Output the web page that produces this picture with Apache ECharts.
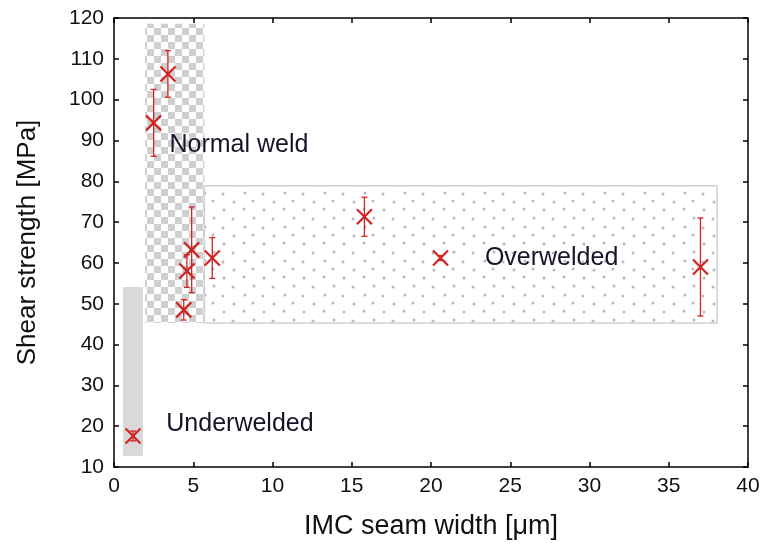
<!DOCTYPE html>
<html>
<head>
<meta charset="utf-8">
<script src="https://cdn.jsdelivr.net/npm/echarts@6/dist/echarts.min.js"></script>
<style>html,body{margin:0;padding:0;background:#fff}#c{width:765px;height:550px}</style>
</head>
<body>
<div id="c"></div>
<script>
// ---- data ----
var xTicks = [0, 5, 10, 15, 20, 25, 30, 35, 40];
var yTicks = [10, 20, 30, 40, 50, 60, 70, 80, 90, 100, 110, 120];
var seamWidth = [1.2, 2.5, 3.4, 4.4, 4.6, 4.9, 6.2, 15.8, 20.6, 37.0];
var shearStrength = [17.6, 94.3, 106.3, 48.5, 58.0, 63.2, 61.2, 71.3, 61.2, 59.0];
var strengthErr = [1.2, 8.2, 5.7, 2.5, 4.0, 10.5, 5.0, 4.8, 0.6, 12.0];

var regionNames = ['Underwelded', 'Normal weld', 'Overwelded'];
var regionX0 = [0.57, 1.96, 5.7];
var regionX1 = [1.83, 5.7, 38.05];
var regionY0 = [12.7, 45.3, 45.3];
var regionY1 = [54.1, 118.6, 78.9];
var labelX = [3.3, 3.5, 23.4];
var labelY = [20.5, 88.9, 61.2];

// ---- patterns ----
function checkerCanvas() {
  var c = document.createElement('canvas'); c.width = 14; c.height = 14;
  var g = c.getContext('2d');
  g.fillStyle = '#ffffff'; g.fillRect(0, 0, 14, 14);
  g.fillStyle = '#cfcfcf'; g.fillRect(0, 0, 7, 7); g.fillRect(7, 7, 7, 7);
  return c;
}
function dotCanvas() {
  var c = document.createElement('canvas'); c.width = 40; c.height = 34;
  var g = c.getContext('2d');
  g.fillStyle = '#ffffff'; g.fillRect(0, 0, 40, 34);
  g.fillStyle = '#b9b9b9';
  var pts = [[4, 5], [24, 6], [14, 14], [33, 15], [5, 23], [23, 24], [13, 31], [34, 32]];
  pts.forEach(function (p) { g.beginPath(); g.arc(p[0], p[1], 1.5, 0, Math.PI * 2); g.fill(); });
  return c;
}
var checkerPat = { image: checkerCanvas(), repeat: 'repeat' };
var dotPat = { image: dotCanvas(), repeat: 'repeat' };
var regionFills = ['#d9d9d9', checkerPat, dotPat];
var regionStroke = [null, null, '#cfcfcf'];

var regionData = regionNames.map(function (n, i) { return [regionX0[i], regionX1[i], regionY0[i], regionY1[i], i]; });
var pointData = seamWidth.map(function (x, i) { return [x, shearStrength[i], strengthErr[i]]; });
var labelData = regionNames.map(function (n, i) { return [labelX[i], labelY[i], i]; });

var RED = '#d02424';
var FONT = '"Liberation Sans", Arial, sans-serif';

var chart = echarts.init(document.getElementById('c'));
var axisCommon = {
  axisLine: { show: true, onZero: false, lineStyle: { color: '#000', width: 1.5 } },
  axisTick: { show: true, inside: true, length: 5, lineStyle: { color: '#000', width: 1.5 } },
  splitLine: { show: false }
};
chart.setOption({
  animation: false,
  backgroundColor: '#fff',
  grid: { left: 114, right: 17, top: 18, bottom: 83 },
  xAxis: [
    Object.assign({
      type: 'value', min: 0, max: 40, interval: 5, position: 'bottom',
      name: 'IMC seam width [\u03bcm]', nameLocation: 'middle', nameGap: 46,
      nameTextStyle: { fontSize: 27, color: '#111', fontFamily: FONT },
      axisLabel: { fontSize: 21, color: '#111', margin: 9, fontFamily: FONT }
    }, axisCommon),
    Object.assign({
      type: 'value', min: 0, max: 40, interval: 5, position: 'top',
      axisLabel: { show: false }
    }, axisCommon)
  ],
  yAxis: [
    Object.assign({
      type: 'value', min: 10, max: 120, interval: 10, position: 'left',
      name: 'Shear strength [MPa]', nameLocation: 'middle', nameGap: 73,
      nameTextStyle: { fontSize: 26, color: '#111', fontFamily: FONT },
      axisLabel: { fontSize: 21, color: '#111', margin: 10, fontFamily: FONT }
    }, axisCommon),
    Object.assign({
      type: 'value', min: 10, max: 120, interval: 10, position: 'right',
      axisLabel: { show: false }
    }, axisCommon)
  ],
  series: [
    {
      type: 'custom', z: 1, data: regionData, silent: true,
      renderItem: function (params, api) {
        var i = api.value(4);
        var p0 = api.coord([api.value(0), api.value(3)]);
        var p1 = api.coord([api.value(1), api.value(2)]);
        var st = { fill: regionFills[i] };
        if (regionStroke[i]) { st.stroke = regionStroke[i]; st.lineWidth = 1.5; }
        return { type: 'rect', shape: { x: p0[0], y: p0[1], width: p1[0] - p0[0], height: p1[1] - p0[1] }, style: st };
      }
    },
    {
      type: 'custom', z: 3, data: labelData, silent: true,
      renderItem: function (params, api) {
        var i = api.value(2);
        var p = api.coord([api.value(0), api.value(1)]);
        return { type: 'text', x: p[0], y: p[1], style: { text: regionNames[i], fill: '#15152a', font: '25px ' + FONT, textAlign: 'left', textVerticalAlign: 'middle' } };
      }
    },
    {
      type: 'custom', z: 4, data: pointData, silent: true,
      renderItem: function (params, api) {
        var x = api.value(0), y = api.value(1), e = api.value(2);
        var c = api.coord([x, y]);
        var top = api.coord([x, y + e]);
        var bot = api.coord([x, y - e]);
        var s = 7.5, cap = 3;
        var ls = { stroke: RED, lineWidth: 1.3 };
        var xs = { stroke: RED, lineWidth: 2.2 };
        return {
          type: 'group', children: [
            { type: 'line', shape: { x1: top[0], y1: top[1], x2: bot[0], y2: bot[1] }, style: ls },
            { type: 'line', shape: { x1: top[0] - cap, y1: top[1], x2: top[0] + cap, y2: top[1] }, style: ls },
            { type: 'line', shape: { x1: bot[0] - cap, y1: bot[1], x2: bot[0] + cap, y2: bot[1] }, style: ls },
            { type: 'line', shape: { x1: c[0] - s, y1: c[1] - s, x2: c[0] + s, y2: c[1] + s }, style: xs },
            { type: 'line', shape: { x1: c[0] - s, y1: c[1] + s, x2: c[0] + s, y2: c[1] - s }, style: xs }
          ]
        };
      }
    }
  ]
});
</script>
</body>
</html>
